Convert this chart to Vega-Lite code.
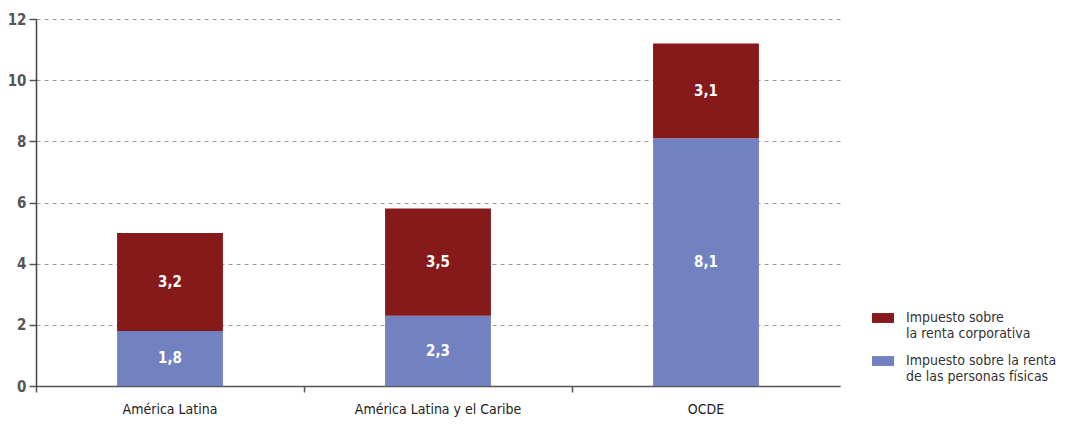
{
  "$schema": "https://vega.github.io/schema/vega-lite/v6.json",
  "width": 804,
  "height": 367,
  "autosize": {"type": "none"},
  "padding": {"left": 36, "top": 19, "right": 225, "bottom": 47},
  "background": "white",
  "config": {
    "locale": {"number": {"decimal": ",", "thousands": ".", "grouping": [3], "currency": ["", " €"]}},
    "view": {"stroke": null},
    "font": "'DejaVu Sans Condensed', 'Liberation Sans Narrow', Roboto, sans-serif"
  },
  "data": {
    "values": [
      {"region": "América Latina", "tipo": "Impuesto sobre la renta de las personas físicas", "orden": 1, "valor": 1.8},
      {"region": "América Latina", "tipo": "Impuesto sobre la renta corporativa", "orden": 2, "valor": 3.2},
      {"region": "América Latina y el Caribe", "tipo": "Impuesto sobre la renta de las personas físicas", "orden": 1, "valor": 2.3},
      {"region": "América Latina y el Caribe", "tipo": "Impuesto sobre la renta corporativa", "orden": 2, "valor": 3.5},
      {"region": "OCDE", "tipo": "Impuesto sobre la renta de las personas físicas", "orden": 1, "valor": 8.1},
      {"region": "OCDE", "tipo": "Impuesto sobre la renta corporativa", "orden": 2, "valor": 3.1}
    ]
  },
  "transform": [
    {"stack": "valor", "groupby": ["region"], "sort": [{"field": "orden", "order": "ascending"}], "as": ["v1", "v2"]},
    {"calculate": "(datum.v1 + datum.v2) / 2", "as": "centro"}
  ],
  "layer": [
    {
      "mark": {"type": "bar", "width": {"band": 0.395}},
      "encoding": {
        "x": {
          "field": "region", "type": "nominal",
          "sort": ["América Latina", "América Latina y el Caribe", "OCDE"],
          "scale": {"paddingInner": 0, "paddingOuter": 0},
          "axis": {
            "title": null, "labelAngle": 0, "ticks": false, "orient": "bottom",
            "labelFontSize": 14, "labelColor": "#222", "labelPadding": 16,
            "domainColor": "#555", "domainWidth": 1.5
          }
        },
        "y": {
          "field": "v1", "type": "quantitative",
          "scale": {"domain": [0, 12], "nice": false},
          "axis": {
            "title": null, "values": [0, 2, 4, 6, 8, 10, 12],
            "labelFontSize": 15, "labelColor": "#555", "labelFontWeight": "bold", "labelPadding": 3,
            "tickSize": 7, "tickColor": "#555", "tickWidth": 1.5,
            "domainColor": "#444", "domainWidth": 1.5,
            "grid": true, "gridDash": [4, 4], "gridColor": "#999", "gridWidth": 1
          }
        },
        "y2": {"field": "v2"},
        "color": {
          "field": "tipo", "type": "nominal",
          "scale": {
            "domain": ["Impuesto sobre la renta corporativa", "Impuesto sobre la renta de las personas físicas"],
            "range": ["#86191a", "#7282c0"]
          },
          "legend": {
            "title": null, "orient": "none", "legendX": 836, "legendY": 288,
            "symbolType": "M-1,-0.45H1V0.45H-1Z", "symbolSize": 484, "symbolStrokeWidth": 0, "symbolOpacity": 1,
            "labelFontSize": 14, "labelColor": "#333", "labelOffset": 12,
            "labelLimit": 300, "rowPadding": 9,
            "labelExpr": "datum.label == 'Impuesto sobre la renta corporativa' ? ['Impuesto sobre', 'la renta corporativa'] : ['Impuesto sobre la renta', 'de las personas físicas']"
          }
        },
        "order": {"field": "orden", "type": "quantitative"}
      }
    },
    {
      "mark": {"type": "text", "color": "white", "fontWeight": "bold", "fontSize": 15, "baseline": "middle"},
      "encoding": {
        "x": {
          "field": "region", "type": "nominal",
          "sort": ["América Latina", "América Latina y el Caribe", "OCDE"],
          "axis": {
            "title": null, "labels": false, "domain": false, "grid": false, "orient": "bottom",
            "bandPosition": 0, "ticks": true, "tickSize": 6, "tickColor": "#555", "tickWidth": 1.5
          }
        },
        "y": {"field": "centro", "type": "quantitative", "axis": null},
        "text": {"field": "valor", "type": "quantitative", "format": ".1f"}
      }
    }
  ],
  "resolve": {"axis": {"x": "independent", "y": "independent"}}
}
